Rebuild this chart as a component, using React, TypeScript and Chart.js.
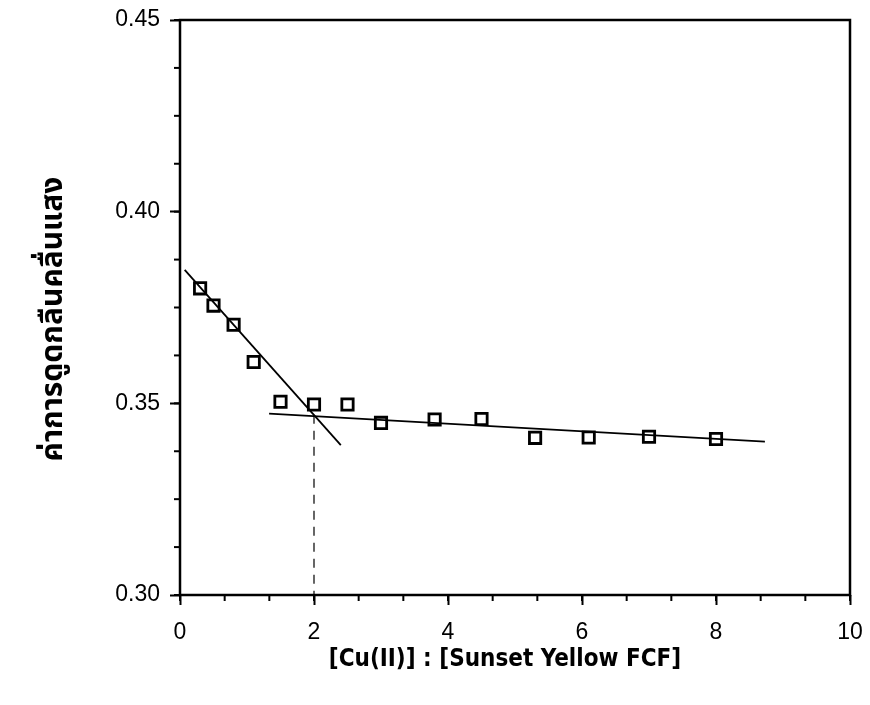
import React, { useEffect, useRef } from "react";
import { Chart, registerables } from "chart.js";

Chart.register(...registerables);

// Measured absorbance versus mole ratio
const ratioValues = [0.3, 0.5, 0.8, 1.1, 1.5, 2.0, 2.5, 3.0, 3.8, 4.5, 5.3, 6.1, 7.0, 8.0];
const absorbanceValues = [0.38, 0.3755, 0.3705, 0.3608, 0.3504, 0.3497, 0.3497, 0.3449, 0.3458, 0.3459, 0.341, 0.3411, 0.3413, 0.3407];

// Two fitted straight lines (end points) and the break point
const steepLineX = [0.07, 2.4];
const steepLineY = [0.3848, 0.3391];
const flatLineX = [1.33, 8.73];
const flatLineY = [0.3473, 0.34];
const breakX = [2.0, 2.0];
const breakY = [0.347, 0.30];

const xTickValues = [0, 2, 4, 6, 8, 10];
const yTickValues = [0.30, 0.35, 0.40, 0.45];

const xTitle = "[Cu(II)] : [Sunset Yellow FCF]";
const yTitle = "ค่าการดูดกลืนคลื่นแสง";

const toPoints = (xs: number[], ys: number[]) => xs.map((x, i) => ({ x, y: ys[i] }));

const framePlugin = {
  id: "frameAndTitles",
  afterDraw(chart: any) {
    const { ctx, chartArea, scales } = chart;
    const xs = scales.x;
    const ys = scales.y;
    ctx.save();
    ctx.strokeStyle = "#000";
    // minor ticks
    ctx.lineWidth = 2;
    for (let v = 0; v <= 10.001; v += 2 / 3) {
      const px = xs.getPixelForValue(v);
      ctx.beginPath();
      ctx.moveTo(px, chartArea.bottom);
      ctx.lineTo(px, chartArea.bottom + 6);
      ctx.stroke();
    }
    for (let v = 0.30; v <= 0.4501; v += 0.0125) {
      const py = ys.getPixelForValue(v);
      ctx.beginPath();
      ctx.moveTo(chartArea.left, py);
      ctx.lineTo(chartArea.left - 6, py);
      ctx.stroke();
    }
    // frame
    ctx.lineWidth = 2.5;
    ctx.strokeRect(chartArea.left, chartArea.top, chartArea.right - chartArea.left, chartArea.bottom - chartArea.top);
    // axis titles
    ctx.fillStyle = "#000";
    ctx.textAlign = "center";
    ctx.textBaseline = "middle";
    ctx.font = "bold 24px 'DejaVu Sans Condensed', 'DejaVu Sans', sans-serif";
    ctx.fillText(xTitle, 505, 660);
    ctx.translate(56, 319);
    ctx.rotate(-Math.PI / 2);
    ctx.font = "bold 30px 'Noto Sans Thai', 'Noto Sans', 'DejaVu Sans', sans-serif";
    ctx.fillText(yTitle, 0, 0);
    ctx.restore();
  },
};

export default function App() {
  const canvasRef = useRef<HTMLCanvasElement>(null);

  useEffect(() => {
    const canvas = canvasRef.current;
    if (!canvas) return;
    const chart = new Chart(canvas, {
      type: "scatter",
      data: {
        datasets: [
          {
            data: toPoints(steepLineX, steepLineY),
            showLine: true,
            borderColor: "#000",
            borderWidth: 1.8,
            pointRadius: 0,
          },
          {
            data: toPoints(flatLineX, flatLineY),
            showLine: true,
            borderColor: "#000",
            borderWidth: 1.8,
            pointRadius: 0,
          },
          {
            data: toPoints(breakX, breakY),
            showLine: true,
            borderColor: "#000",
            borderWidth: 1.2,
            borderDash: [9, 7],
            pointRadius: 0,
          },
          {
            data: toPoints(ratioValues, absorbanceValues),
            pointStyle: "rect",
            pointRadius: 8,
            pointBorderWidth: 2.8,
            pointBorderColor: "#000",
            pointBackgroundColor: "#fff",
          },
          {
            data: toPoints(ratioValues, absorbanceValues),
            pointStyle: "circle",
            pointRadius: 1.8,
            pointBorderWidth: 0,
            pointBackgroundColor: "#000",
          },
        ],
      },
      options: {
        animation: false,
        responsive: false,
        layout: { padding: { top: 20, right: 20, left: 0, bottom: 0 } },
        plugins: { legend: { display: false }, tooltip: { enabled: false } },
        scales: {
          x: {
            type: "linear",
            min: 0,
            max: 10,
            afterFit: (s: any) => {
              s.height = 110;
              s.paddingLeft = 0;
              s.paddingRight = 0;
            },
            afterBuildTicks: (s: any) => { s.ticks = xTickValues.map((value) => ({ value })); },
            ticks: {
              color: "#000",
              padding: 14,
              font: { family: "'Liberation Sans', Arial, sans-serif", size: 23 },
              callback: (v: any) => String(v),
            },
            grid: { drawOnChartArea: false, tickLength: 10, tickWidth: 2, tickColor: "#000" },
            border: { display: false },
          },
          y: {
            type: "linear",
            min: 0.3,
            max: 0.45,
            afterFit: (s: any) => {
              s.width = 180;
              s.paddingTop = 0;
              s.paddingBottom = 0;
            },
            afterBuildTicks: (s: any) => { s.ticks = yTickValues.map((value) => ({ value })); },
            ticks: {
              color: "#000",
              padding: 10,
              font: { family: "'Liberation Sans', Arial, sans-serif", size: 23 },
              callback: (v: any) => Number(v).toFixed(2),
            },
            grid: { drawOnChartArea: false, tickLength: 10, tickWidth: 2, tickColor: "#000" },
            border: { display: false },
          },
        },
      },
      plugins: [framePlugin],
    });
    return () => chart.destroy();
  }, []);

  return (
    <div style={{ position: "fixed", left: 0, top: 0, width: 870, height: 705, background: "#fff" }}>
      <canvas ref={canvasRef} width={870} height={705} />
    </div>
  );
}
